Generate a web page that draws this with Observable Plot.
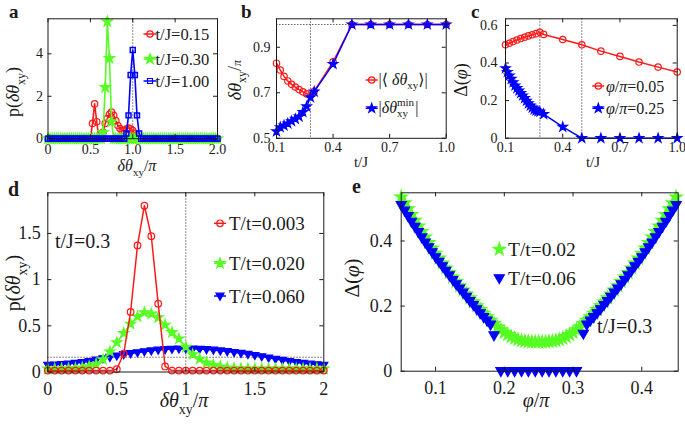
<!DOCTYPE html>
<html><head><meta charset="utf-8">
<script src="https://cdn.jsdelivr.net/npm/d3@7"></script>
<script src="https://cdn.jsdelivr.net/npm/@observablehq/plot@0.6"></script>
<style>
body{margin:0;background:#fff;}
#fig{position:relative;width:685px;height:425px;overflow:hidden;background:#fff;}
</style></head><body><div id="fig"></div>
<script>
// ---------- Panel a : p(dtheta_xy) for three t/J ----------
const aX = [0,0.025,0.05,0.075,0.1,0.125,0.15,0.175,0.2,0.225,
  0.25,0.275,0.3,0.325,0.35,0.375,0.4,0.425,0.45,0.475,
  0.5,0.525,0.55,0.575,0.6,0.625,0.65,0.675,0.7,0.725,
  0.75,0.775,0.8,0.825,0.85,0.875,0.9,0.925,0.95,0.975,
  1,1.025,1.05,1.075,1.1,1.125,1.15,1.175,1.2,1.225,
  1.25,1.275,1.3,1.325,1.35,1.375,1.4,1.425,1.45,1.475,
  1.5,1.525,1.55,1.575,1.6,1.625,1.65,1.675,1.7,1.725,
  1.75,1.775,1.8,1.825,1.85,1.875,1.9,1.925,1.95,1.975,2];
const aT015 = [0,0,0,0,0,0,0,0,0,0, 0,0,0,0,0,0,0,0,0,0,
  0,0.72,1.64,0.8,0.05,0.02,0.3,0.72,0.95,1.15,
  1.25,1.1,0.85,0.62,0.48,0.38,0.38,0.45,0.5,0.47,
  0.38,0.25,0.1,0.02,0,0,0,0,0,0, 0,0,0,0,0,0,0,0,0,0,
  0,0,0,0,0,0,0,0,0,0, 0,0,0,0,0,0,0,0,0,0, 0];
const aT030 = [0,0,0,0,0,0,0,0,0,0, 0,0,0,0,0,0,0,0,0,0,
  0,0,0,0,0,0,0.3,2.42,5.52,3.79,
  0.8,0,0,0,0,0,0,0,0,0, 0,0,0,0,0,0,0,0,0,0, 0,0,0,0,0,0,0,0,0,0,
  0,0,0,0,0,0,0,0,0,0, 0,0,0,0,0,0,0,0,0,0, 0];
const aT100 = [0,0,0,0,0,0,0,0,0,0, 0,0,0,0,0,0,0,0,0,0, 0,0,0,0,0,0,0,0,0,0,
  0,0,0,0,0,0,0,0.25,1.1,3.0,
  4.18,3.0,1.1,0.25,0,0,0,0,0,0, 0,0,0,0,0,0,0,0,0,0, 0,0,0,0,0,0,0,0,0,0,
  0,0,0,0,0,0,0,0,0,0, 0];
const aXTicks = [0,0.5,1,1.5,2], aXLabels = ["0","0.5","1.0","1.5","2.0"];
const aYTicks = [0,2,4], aYLabels = ["0","2","4"];
const aRefX = [1];

// ---------- Panel b ----------
const bX = [0.1,0.12,0.14,0.16,0.18,0.2,0.22,0.24,0.26,0.28,0.3,0.4,0.5,0.6,0.7,0.8,0.9,1.0];
const bMean = [0.83,0.80,0.772,0.752,0.737,0.725,0.714,0.704,0.695,0.688,0.707,0.836,1,1,1,1,1,1];
const bMin  = [0.53,0.548,0.556,0.565,0.575,0.585,0.595,0.615,0.64,0.68,0.705,0.826,1,1,1,1,1,1];
const bXTicks = [0.1,0.4,0.7,1.0], bXLabels = ["0.1","0.4","0.7","1.0"];
const bYTicks = [0.5,0.7,0.9], bYLabels = ["0.5","0.7","0.9"];
const bRefX = [0.28], bRefY = [1.0];

// ---------- Panel c ----------
const cRedX = [0.1,0.12,0.14,0.16,0.18,0.2,0.22,0.24,0.26,0.28,0.3,0.4,0.5,0.6,0.7,0.8,0.9,1.0];
const cPhi005 = [0.497,0.505,0.514,0.522,0.53,0.537,0.544,0.55,0.556,0.563,0.552,0.525,0.497,0.463,0.435,0.405,0.378,0.352];
const cBlueX = [0.1,0.11,0.12,0.13,0.14,0.15,0.16,0.17,0.18,0.19,0.2,0.21,0.22,0.23,0.24,0.25,0.26,0.27,0.28,0.3,0.4,0.5,0.6,0.7,0.8,0.9,1.0];
const cPhi025 = [0.372,0.352,0.333,0.315,0.297,0.28,0.266,0.253,0.24,0.227,0.213,0.199,0.185,0.173,0.162,0.153,0.147,0.143,0.14,0.128,0.06,0,0,0,0,0,0];
const cXTicks = [0.1,0.4,0.7,1.0], cXLabels = ["0.1","0.4","0.7","1.0"];
const cYTicks = [0,0.2,0.4,0.6], cYLabels = ["0","0.2","0.4","0.6"];
const cRefX = [0.28,0.5];

// ---------- Panel d ----------
const dX = [0,0.05,0.1,0.15,0.2,0.25,0.3,0.35,0.4,0.45,
  0.5,0.55,0.6,0.65,0.7,0.75,0.8,0.85,0.9,0.95,
  1,1.05,1.1,1.15,1.2,1.25,1.3,1.35,1.4,1.45,
  1.5,1.55,1.6,1.65,1.7,1.75,1.8,1.85,1.9,1.95,2];
const dT003 = [0.015,0.015,0.015,0.015,0.015,0.015,0.015,0.015,0.015,0.015,
  0.03,0.2,0.65,1.37,1.8,1.47,0.74,0.06,0.015,0.015,
  0.015,0.015,0.015,0.015,0.015,0.015,0.015,0.015,0.015,0.015,
  0.015,0.015,0.015,0.015,0.015,0.015,0.015,0.015,0.015,0.015,0.015];
const dT020 = [0.035,0.035,0.035,0.037,0.04,0.047,0.06,0.085,0.135,0.22,
  0.32,0.42,0.52,0.6,0.645,0.63,0.59,0.51,0.43,0.36,
  0.27,0.19,0.14,0.1,0.075,0.058,0.047,0.04,0.037,0.035,
  0.035,0.035,0.035,0.035,0.035,0.035,0.035,0.035,0.035,0.035,0.035];
const dT060 = [0.075,0.078,0.082,0.088,0.095,0.105,0.115,0.13,0.145,0.16,
  0.175,0.19,0.2,0.21,0.22,0.23,0.238,0.244,0.248,0.25,
  0.25,0.25,0.248,0.244,0.238,0.23,0.222,0.213,0.203,0.192,
  0.18,0.167,0.153,0.14,0.127,0.115,0.104,0.095,0.087,0.08,0.075];
const dXTicks = [0,0.5,1,1.5,2], dXLabels = ["0","0.5","1","1.5","2"];
const dYTicks = [0,0.5,1,1.5], dYLabels = ["0","0.5","1","1.5"];
const dRefX = [1], dRefY = [0.16];

// ---------- Panel e ----------
const eGreenX = [0.05,0.055,0.06,0.065,0.07,0.075,0.08,0.085,0.09,0.095,
  0.1,0.105,0.11,0.115,0.12,0.125,0.13,0.135,0.14,0.145,
  0.15,0.155,0.16,0.165,0.17,0.175,0.18,0.185,0.19,0.195,
  0.2,0.205,0.21,0.215,0.22,0.225,0.23,0.235,0.24,0.245,
  0.25,0.255,0.26,0.265,0.27,0.275,0.28,0.285,0.29,0.295,
  0.3,0.305,0.31,0.315,0.32,0.325,0.33,0.335,0.34,0.345,
  0.35,0.355,0.36,0.365,0.37,0.375,0.38,0.385,0.39,0.395,
  0.4,0.405,0.41,0.415,0.42,0.425,0.43,0.435,0.44,0.445,0.45];
const eT002 = [0.535,0.517,0.499,0.481,0.463,0.446,0.429,0.412,0.395,0.378,
  0.362,0.347,0.332,0.317,0.303,0.289,0.275,0.262,0.249,0.237,
  0.225,0.213,0.201,0.189,0.178,0.167,0.156,0.146,0.136,0.127,
  0.119,0.112,0.106,0.101,0.097,0.094,0.092,0.091,0.09,0.09,
  0.09,0.09,0.09,0.091,0.092,0.094,0.097,0.101,0.106,0.112,
  0.119,0.127,0.136,0.146,0.156,0.167,0.178,0.189,0.201,0.213,
  0.225,0.237,0.249,0.262,0.275,0.289,0.303,0.317,0.332,0.347,
  0.362,0.378,0.395,0.412,0.429,0.446,0.463,0.481,0.499,0.517,0.535];
const eBlueX = [0.05,0.055,0.06,0.065,0.07,0.075,0.08,0.085,0.09,0.095,
  0.1,0.105,0.11,0.115,0.12,0.125,0.13,0.135,0.14,0.145,
  0.15,0.155,0.16,0.165,0.17,0.175,0.18,0.185,
  0.195,0.205,0.215,0.225,0.235,0.245,0.255,0.265,0.275,0.285,0.295,0.305,
  0.315,0.32,0.325,0.33,0.335,0.34,0.345,0.35,0.355,0.36,
  0.365,0.37,0.375,0.38,0.385,0.39,0.395,0.4,0.405,0.41,
  0.415,0.42,0.425,0.43,0.435,0.44,0.445,0.45];
const eT006 = [0.51,0.493,0.476,0.459,0.443,0.427,0.411,0.395,0.38,0.365,
  0.35,0.336,0.322,0.308,0.294,0.28,0.267,0.254,0.241,0.228,
  0.215,0.203,0.19,0.178,0.166,0.155,0.143,0.11,
  0,0,0,0,0,0,0,0,0,0,0,0,
  0.115,0.143,0.155,0.166,0.178,0.19,0.203,0.215,0.228,0.241,
  0.254,0.267,0.28,0.294,0.308,0.322,0.336,0.35,0.365,0.38,
  0.395,0.411,0.427,0.443,0.459,0.476,0.493,0.51];
const eXTicks = [0.1,0.2,0.3,0.4], eXLabels = ["0.1","0.2","0.3","0.4"];
const eYTicks = [0,0.2,0.4], eYLabels = ["0","0.2","0.4"];

// ---------- styling ----------
const RED = "#ff1a1a", GREEN = "#55ff22", BLUE = "#0000ff", INK = "#1a1a1a";
const FONT = "'Liberation Serif', 'DejaVu Serif', serif";
const dotted = {stroke: "#555", strokeWidth: 0.9, strokeDasharray: "1.5,1.5"};
const triDown = {draw(ctx, size) {
  const r = Math.sqrt(size / Math.PI), w = r * 1.25, h = r * 1.1;
  ctx.moveTo(-w, -h * 0.8); ctx.lineTo(w, -h * 0.8); ctx.lineTo(0, h * 1.2); ctx.closePath();
}};

function series(x, y, color, symbol, o = {}) {
  const ms = [];
  if (o.line !== false) ms.push(Plot.line(x, {x: x, y: y, stroke: color, strokeWidth: o.lw ?? 1.5}));
  ms.push(Plot.dot(x, {x: x, y: y, symbol, r: o.r ?? 3, stroke: color, fill: o.fill ?? "none", strokeWidth: o.sw ?? 1.2}));
  return ms;
}

const fig = document.getElementById("fig");
function panel(p) {
  const ph = p.height - p.mt - p.mb, pw = p.width - p.ml - p.mr, tl = 4;
  const chart = Plot.plot({
    width: p.width, height: p.height,
    marginLeft: p.ml, marginRight: p.mr, marginTop: p.mt, marginBottom: p.mb,
    style: {fontFamily: FONT, fontSize: p.fs + "px", color: INK, background: "transparent", overflow: "visible"},
    x: {domain: p.xd, ticks: p.xt, tickFormat: d => p.xl[p.xt.indexOf(d)], tickSize: 0, tickPadding: p.xp, label: null},
    y: {domain: p.yd, ticks: p.yt, tickFormat: d => p.yl[p.yt.indexOf(d)], tickSize: 0, tickPadding: p.yp, label: null},
    marks: [
      ...p.marks,
      Plot.ruleX(p.xt, {x: d => d, insetTop: ph - tl, stroke: INK}),
      Plot.ruleX(p.xt, {x: d => d, insetBottom: ph - tl, stroke: INK}),
      Plot.ruleY(p.yt, {y: d => d, insetRight: pw - tl, stroke: INK}),
      Plot.ruleY(p.yt, {y: d => d, insetLeft: pw - tl, stroke: INK}),
      Plot.frame({stroke: INK, strokeWidth: 1})
    ]
  });
  chart.style.position = "absolute";
  chart.style.left = p.left + "px";
  chart.style.top = p.top + "px";
  fig.appendChild(chart);
}

panel({left: 0, top: 0, width: 225, height: 170, ml: 47.5, mr: 8, mt: 18.3, mb: 31.8,
  xd: [0, 2], yd: [0, 5.65], xt: aXTicks, xl: aXLabels, yt: aYTicks, yl: aYLabels, fs: 14, xp: 5, yp: 5,
  marks: [Plot.ruleX(aRefX, dotted),
    ...series(aX, aT015, RED, "circle", {r: 3.2, lw: 1.6}),
    ...series(aX, aT030, GREEN, "star", {r: 3.2, fill: GREEN, lw: 1.6}),
    ...series(aX, aT100, BLUE, "square", {r: 2.8, lw: 1.6, sw: 1.5})]});

panel({left: 225, top: 0, width: 230, height: 170, ml: 51, mr: 9.3, mt: 18.3, mb: 32.2,
  xd: [0.1, 1.0], yd: [0.5, 1.025], xt: bXTicks, xl: bXLabels, yt: bYTicks, yl: bYLabels, fs: 14, xp: 4, yp: 6,
  marks: [Plot.ruleX(bRefX, dotted), Plot.ruleY(bRefY, dotted),
    ...series(bX, bMean, RED, "circle", {r: 3.2}),
    ...series(bX, bMin, BLUE, "star", {r: 2.9, fill: BLUE})]});

panel({left: 455, top: 0, width: 230, height: 170, ml: 50, mr: 8.3, mt: 18.3, mb: 32.3,
  xd: [0.1, 1.0], yd: [0, 0.635], xt: cXTicks, xl: cXLabels, yt: cYTicks, yl: cYLabels, fs: 14, xp: 4, yp: 8,
  marks: [Plot.ruleX(cRefX, dotted),
    ...series(cRedX, cPhi005, RED, "circle", {r: 3.2}),
    ...series(cBlueX, cPhi025, BLUE, "star", {r: 2.9, fill: BLUE})]});

panel({left: 0, top: 175, width: 340, height: 250, ml: 47.3, mr: 16.7, mt: 17.3, mb: 53.5,
  xd: [0, 2], yd: [0, 1.94], xt: dXTicks, xl: dXLabels, yt: dYTicks, yl: dYLabels, fs: 18, xp: 10, yp: 7,
  marks: [Plot.ruleX(dRefX, dotted), Plot.ruleY(dRefY, dotted),
    ...series(dX, dT060, BLUE, triDown, {r: 3.2, fill: BLUE}),
    ...series(dX, dT020, GREEN, "star", {r: 3.2, fill: GREEN}),
    ...series(dX, dT003, RED, "circle", {r: 3.3})]});

panel({left: 340, top: 175, width: 345, height: 250, ml: 60.7, mr: 7.3, mt: 17.3, mb: 54.3,
  xd: [0.05, 0.453], yd: [0, 0.548], xt: eXTicks, xl: eXLabels, yt: eYTicks, yl: eYLabels, fs: 18, xp: 10, yp: 9,
  marks: [
    ...series(eGreenX, eT002, GREEN, "star", {r: 3.9, fill: GREEN, line: false}),
    ...series(eBlueX, eT006, BLUE, triDown, {r: 4.0, fill: BLUE, line: false})]});

// ---------- overlay: letters, axis titles, legends ----------
const ov = d3.select(fig).append("svg").attr("width", 685).attr("height", 425)
  .style("position", "absolute").style("left", 0).style("top", 0)
  .style("font-family", FONT).attr("fill", INK);

function txt(x, y, parts, o = {}) {
  const t = ov.append("text").attr("x", x).attr("y", y).attr("font-size", o.size || 16)
    .attr("text-anchor", o.anchor || "start");
  if (o.rotate) t.attr("transform", `rotate(${o.rotate},${x},${y})`);
  if (o.bold) t.attr("font-weight", "bold");
  let shift = 0;
  for (const p of parts) {
    const [s, st] = typeof p === "string" ? [p, {}] : p;
    const ts = t.append("tspan").text(s);
    const target = st.sub || (st.sup ? -st.sup : 0);
    if (target - shift) ts.attr("dy", target - shift);
    shift = target;
    if (st.i) ts.attr("font-style", "italic");
    if (st.fs) ts.attr("font-size", st.fs);
    if (st.dx) ts.attr("dx", st.dx);
  }
  return t;
}
function key(x, y, color, symbol, fill, r, line) {
  if (line) ov.append("line").attr("x1", x - line).attr("x2", x + line).attr("y1", y).attr("y2", y)
    .attr("stroke", color).attr("stroke-width", 1.5);
  ov.append("path").attr("d", d3.symbol(symbol, Math.PI * r * r)())
    .attr("transform", `translate(${x},${y})`).attr("fill", fill).attr("stroke", color).attr("stroke-width", 1.2);
}

// panel letters
txt(9, 18, ["a"], {size: 19, bold: true});
txt(241, 18, ["b"], {size: 19, bold: true});
txt(471, 18, ["c"], {size: 19, bold: true});
txt(8, 196, ["d"], {size: 20, bold: true});
txt(352, 193, ["e"], {size: 20, bold: true});

// panel a
txt(137, 170.5, [["δθ", {i: 1}], ["xy", {sub: 5, fs: 11}], "/", ["π", {i: 1}]], {size: 16, anchor: "middle"});
txt(19, 92, ["p(", ["δθ", {i: 1}], ["xy", {sub: 6, fs: 12}], ")"], {size: 18, anchor: "middle", rotate: -90});
const aLeg = [["t/J=0.15", RED, d3.symbolCircle, "none", 3.2, 34],
              ["t/J=0.30", GREEN, d3.symbolStar, GREEN, 3.2, 59],
              ["t/J=1.00", BLUE, d3.symbolSquare, "none", 2.8, 81]];
for (const [s, c, sym, f, r, y] of aLeg) { key(150, y, c, sym, f, r, 6.5); txt(155.5, y + 5.5, [s], {size: 16.5}); }

// panel b
txt(361, 167, ["t/J"], {size: 15, anchor: "middle"});
txt(241, 80, [["δθ", {i: 1}], ["xy", {sub: 5, fs: 12}], "/", ["π", {i: 1, fs: 12}]], {size: 18, anchor: "middle", rotate: -90});
key(371.7, 80, RED, d3.symbolCircle, "none", 3.2, 6);
txt(378.5, 84.5, ["|⟨ ", ["δθ", {i: 1}], ["xy", {sub: 4, fs: 11}], "⟩|"], {size: 16});
key(371.7, 108.3, BLUE, d3.symbolStar, BLUE, 2.9, 6);
{
  const t = txt(378.5, 112.5, ["|", ["δθ", {i: 1}], ["min", {sup: 7, fs: 11}]], {size: 16});
  const mw = t.select("tspan:last-child").node().getComputedTextLength();
  const sub = t.append("tspan").text("xy").attr("font-size", 11).attr("dy", 11).attr("dx", -mw);
  const xw = sub.node().getComputedTextLength();
  t.append("tspan").text("|").attr("dy", -4).attr("dx", Math.max(0, mw - xw) + 1);
}

// panel c
txt(593, 167, ["t/J"], {size: 15, anchor: "middle"});
txt(467, 80, ["Δ(", ["φ", {i: 1}], ")"], {size: 18, anchor: "middle", rotate: -90});
key(598.3, 86, RED, d3.symbolCircle, "none", 3.2, 6);
txt(606, 91.5, [["φ", {i: 1}], "/", ["π", {i: 1}], "=0.05"], {size: 16});
key(598.3, 108.3, BLUE, d3.symbolStar, BLUE, 2.9, 6);
txt(606, 113.8, [["φ", {i: 1}], "/", ["π", {i: 1}], "=0.25"], {size: 16});

// panel d
txt(184, 407, [["δθ", {i: 1}], ["xy", {sub: 7, fs: 14}], "/", ["π", {i: 1}]], {size: 20, anchor: "middle"});
txt(20, 283, ["p(", ["δθ", {i: 1}], ["xy", {sub: 7, fs: 14}], ")"], {size: 20, anchor: "middle", rotate: -90});
txt(55, 248, ["t/J=0.3"], {size: 20});
const dLeg = [["T/t=0.003", RED, d3.symbolCircle, "none", 3.3, 223.3],
              ["T/t=0.020", GREEN, d3.symbolStar, GREEN, 3.2, 263.3],
              ["T/t=0.060", BLUE, triDown, BLUE, 3.2, 296]];
for (const [s, c, sym, f, r, y] of dLeg) { key(220, y, c, sym, f, r, 6); txt(229, y + 6.5, [s], {size: 19}); }

// panel e
txt(536, 407, [["φ", {i: 1}], "/", ["π", {i: 1}]], {size: 20, anchor: "middle"});
txt(359, 278, ["Δ(", ["φ", {i: 1}], ")"], {size: 21, anchor: "middle", rotate: -90});
txt(597, 333, ["t/J=0.3"], {size: 20});
key(499.3, 249.3, GREEN, d3.symbolStar, GREEN, 3.9, 0);
txt(508, 255.5, ["T/t=0.02"], {size: 19.5});
key(499.3, 278.3, BLUE, triDown, BLUE, 4.0, 0);
txt(508, 284.5, ["T/t=0.06"], {size: 19.5});
</script>
</body></html>
